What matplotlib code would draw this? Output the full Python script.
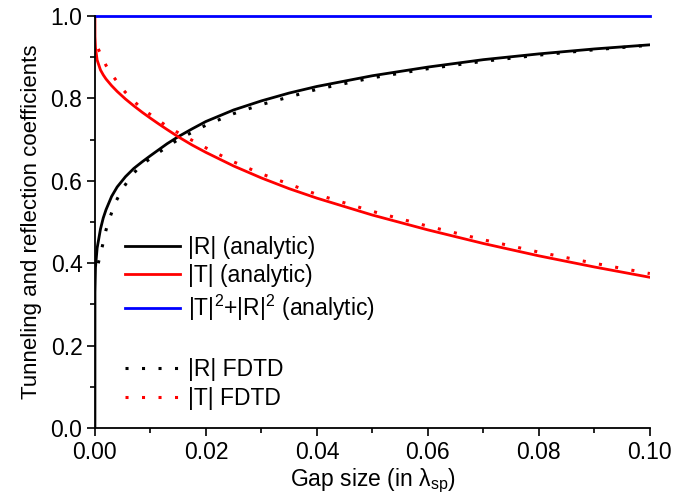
import matplotlib
matplotlib.use("Agg")
import matplotlib.pyplot as plt
from matplotlib.lines import Line2D
from matplotlib.ticker import MultipleLocator, FormatStrFormatter

plt.rcParams['font.family'] = ['Liberation Sans', 'DejaVu Sans']
plt.rcParams['mathtext.fontset'] = 'custom'
plt.rcParams['mathtext.rm'] = 'Liberation Sans'
plt.rcParams['mathtext.it'] = 'Liberation Sans'

# analytic curves
gap_an = [0.0, 0.00001, 0.0001, 0.0004, 0.001, 0.0015, 0.002, 0.003, 0.004,
          0.0055, 0.007, 0.0085, 0.01, 0.0115, 0.013, 0.015, 0.0175, 0.02,
          0.025, 0.03, 0.035, 0.04, 0.05, 0.06, 0.07, 0.08, 0.09, 0.1]
r_an = [0.0, 0.33, 0.39, 0.437, 0.483, 0.51, 0.53, 0.562, 0.585,
        0.610, 0.630, 0.646, 0.661, 0.6755, 0.690, 0.707, 0.726, 0.744,
        0.772, 0.794, 0.813, 0.829, 0.855, 0.876, 0.894, 0.908, 0.920, 0.930]
t_an = [1.0, 0.95, 0.923, 0.893, 0.869, 0.857, 0.847, 0.831, 0.817,
        0.7985, 0.782, 0.7665, 0.752, 0.738, 0.7245, 0.707, 0.687, 0.669,
        0.636, 0.607, 0.581, 0.558, 0.517, 0.481, 0.448, 0.418, 0.391, 0.366]
gap_sum = [0.0, 0.1]
sum_an = [1.0, 1.0]

# FDTD results
gap_fd = [0.0006, 0.0014, 0.002, 0.0028, 0.0037, 0.005, 0.0065, 0.0083,
          0.0105, 0.0128, 0.0151, 0.02, 0.025, 0.03, 0.04, 0.05, 0.06, 0.07,
          0.08, 0.09, 0.1]
r_fd = [0.40, 0.445, 0.481, 0.515, 0.548, 0.581, 0.611, 0.638,
        0.659, 0.681, 0.701, 0.735, 0.763, 0.785, 0.822, 0.85, 0.872, 0.89,
        0.905, 0.918, 0.929]
t_fd = [0.92, 0.897, 0.88, 0.862, 0.846, 0.822, 0.80, 0.777,
        0.756, 0.734, 0.716, 0.680, 0.646, 0.617, 0.567, 0.526, 0.49, 0.457,
        0.427, 0.40, 0.375]

fig = plt.figure(figsize=(6.98, 4.99), dpi=100)
ax = fig.add_axes([0.136, 0.142, 0.795, 0.826])

dots = (0, (1, 4.4))
ax.plot(gap_an, r_an, color='black', lw=2, label='|R| (analytic)')
ax.plot(gap_an, t_an, color='red', lw=2, label='|T| (analytic)')
ax.plot(gap_sum, sum_an, color='blue', lw=2, clip_on=False,
        label='|T|$^2$+|R|$^2$ (analytic)')
ax.plot(gap_fd, r_fd, color='black', lw=2.2, ls=dots, label='|R| FDTD')
ax.plot(gap_fd, t_fd, color='red', lw=2.2, ls=dots, label='|T| FDTD')

ax.set_xlim(0, 0.1)
ax.set_ylim(0, 1.0)
ax.xaxis.set_major_locator(MultipleLocator(0.02))
ax.xaxis.set_minor_locator(MultipleLocator(0.01))
ax.yaxis.set_major_locator(MultipleLocator(0.2))
ax.yaxis.set_minor_locator(MultipleLocator(0.1))
ax.xaxis.set_major_formatter(FormatStrFormatter('%.2f'))
ax.yaxis.set_major_formatter(FormatStrFormatter('%.1f'))
ax.tick_params(which='major', direction='out', length=6, width=1.2,
               labelsize=16.5, pad=3)
ax.tick_params(which='minor', direction='out', length=3.5, width=1.2)

ax.spines['top'].set_visible(False)
ax.spines['right'].set_visible(False)
ax.spines['left'].set_linewidth(1.3)
ax.spines['bottom'].set_linewidth(1.3)

ax.set_xlabel(r'Gap size (in $\mathregular{\lambda_{sp}}$)', fontsize=16.5,
              labelpad=2)
ax.set_ylabel('Tunneling and reflection coefficients', fontsize=16,
              labelpad=6)

handles, labels = ax.get_legend_handles_labels()
blank = Line2D([], [], color='none')
handles = handles[:3] + [blank] + handles[3:]
labels = labels[:3] + [''] + labels[3:]
ax.legend(handles, labels, loc='lower left', bbox_to_anchor=(0.055, 0.045),
          frameon=False, fontsize=16.5, handlelength=2.4, labelspacing=0.25,
          handletextpad=0.35, borderaxespad=0, borderpad=0)

fig.savefig('out.png', dpi=100)
